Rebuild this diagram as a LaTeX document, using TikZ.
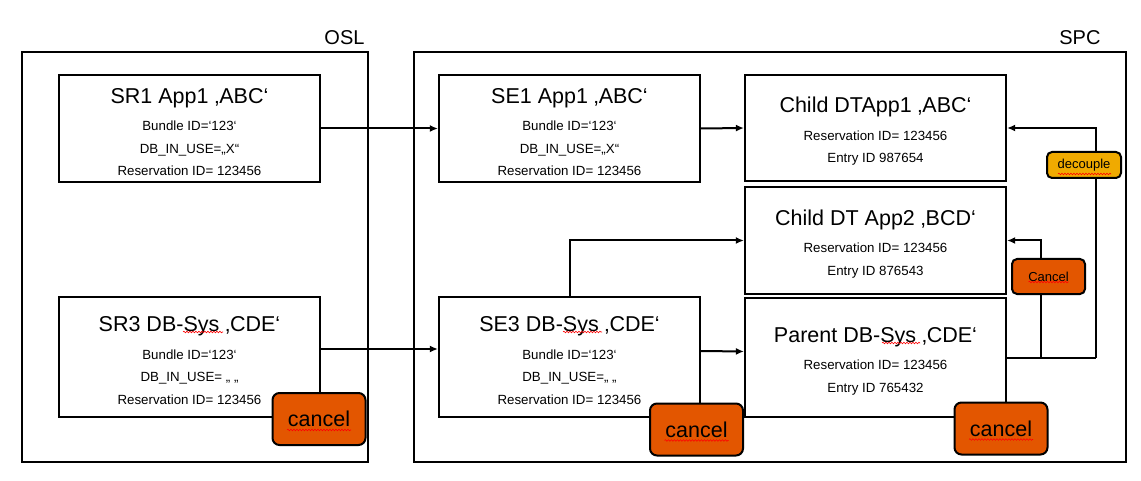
\documentclass[tikz,border=0pt]{standalone}
\usepackage{fontspec}
\setmainfont{Liberation Sans}
\usetikzlibrary{arrows.meta, decorations.pathmorphing}
\definecolor{cancelred}{RGB}{227,86,0}
\definecolor{decoupleamber}{RGB}{240,170,0}
\newcommand\hd[1]{{\fontsize{21.5}{25}\selectfont\rule{0pt}{22pt}#1}\\[5pt]}

\begin{document}
\begin{tikzpicture}[x=1pt, y=-1pt,
  frame/.style={draw, line width=2.6pt},
  entity/.style={draw, line width=2.2pt, minimum width=261pt, align=center,
    font=\fontsize{13.3}{22.5}\selectfont},
  btn/.style={draw, line width=2pt, rounded corners=7pt, fill=cancelred,
    font=\fontsize{21.5}{25}\selectfont},
  smallbtn/.style={btn, rounded corners=5pt, font=\fontsize{13}{15}\selectfont},
  link/.style={line width=2pt, -{Latex[length=8pt,width=7pt]}},
  spell/.style={red, line width=.6pt, decorate,
    decoration={snake, amplitude=.8pt, segment length=3pt}}]
  \useasboundingbox (0, 0) rectangle (1141, 481);

  % the two systems
  \draw[frame] (22, 52) rectangle (368, 462);
  \draw[frame] (414, 52) rectangle (1126, 462);
  \node at(368, 45) [anchor=base east, font=\fontsize{20}{24}\selectfont](osl){OSL};
  \node at(1104, 45) [anchor=base east, font=\fontsize{20}{24}\selectfont](spc){SPC};

  % OSL side
  \node at(189.5, 128.5) [entity, minimum height=107pt](sr1){\hd{SR1 App1 ‚ABC‘}Bundle ID=‘123‘\\DB\_IN\_USE=„X“\\Reservation ID= 123456};
  \node at(189.5, 357) [entity, minimum height=120pt](sr3){\hd{SR3 DB-Sys ‚CDE‘}Bundle ID=‘123‘\\DB\_IN\_USE= „ „\\Reservation ID= 123456};

  % SPC side
  \node at(569.5, 128.5) [entity, minimum height=107pt](se1){\hd{SE1 App1 ‚ABC‘}Bundle ID=‘123‘\\DB\_IN\_USE=„X“\\Reservation ID= 123456};
  \node at(569.5, 357) [entity, minimum height=120pt](se3){\hd{SE3 DB-Sys ‚CDE‘}Bundle ID=‘123‘\\DB\_IN\_USE=„ „\\Reservation ID= 123456};
  \node at(875.5, 128) [entity, minimum height=106pt](dt1){\hd{Child DTApp1 ‚ABC‘}Reservation ID= 123456\\Entry ID 987654};
  \node at(875.5, 240.5) [entity, minimum height=107pt](dt2){\hd{Child DT App2 ‚BCD‘}Reservation ID= 123456\\Entry ID 876543};
  \node at(875.5, 357.5) [entity, minimum height=119pt](par){\hd{Parent DB-Sys ‚CDE‘}Reservation ID= 123456\\Entry ID 765432};

  % spell marks under Sys
  \draw[spell] (183, 332) -- (223, 332);
  \draw[spell] (563, 332) -- (602, 332);
  \draw[spell] (882, 343) -- (920, 343);

  \draw[link] (sr1.east) -- (se1.west);
  \draw[link] ([yshift=8pt]sr3.east) -- ([yshift=8pt]se3.west);
  \draw[link] (se1.east) -- (dt1.west);
  \draw[link] ([yshift=6pt]se3.east) -- ([yshift=6pt]par.west);
  \draw[link] (se3.north) |- (dt2.west);

  \coordinate (fork) at (1041, 357.5);
  \coordinate (turn) at (1096, 357.5);
  \draw[line width=2pt] (par.east) -- (turn);
  \draw[link] (turn) |- (dt1.east);
  \draw[link] (fork) |- (dt2.east);

  % actions
  \foreach \cx/\cy/\nm in {319/419/cx1, 696.5/429.5/cx2, 1001/428.5/cx3} {
    \node at(\cx, \cy) [btn, minimum width=93pt, minimum height=52pt](\nm){cancel};
    \draw[spell] ([xshift=-32pt, yshift=-11pt]\nm.center) -- +(64, 0);
  }
  \node at(1084, 165) [smallbtn, fill=decoupleamber, minimum width=74pt, minimum height=26pt](dec){decouple};
  \draw[spell] ([xshift=-26pt, yshift=-9pt]dec.center) -- +(53, 0);
  \node at(1048.5, 276.5) [smallbtn, minimum width=73pt, minimum height=35pt](cxs){Cancel};
  \draw[spell] ([xshift=-20pt, yshift=-5.5pt]cxs.center) -- +(40, 0);
\end{tikzpicture}
\end{document}
